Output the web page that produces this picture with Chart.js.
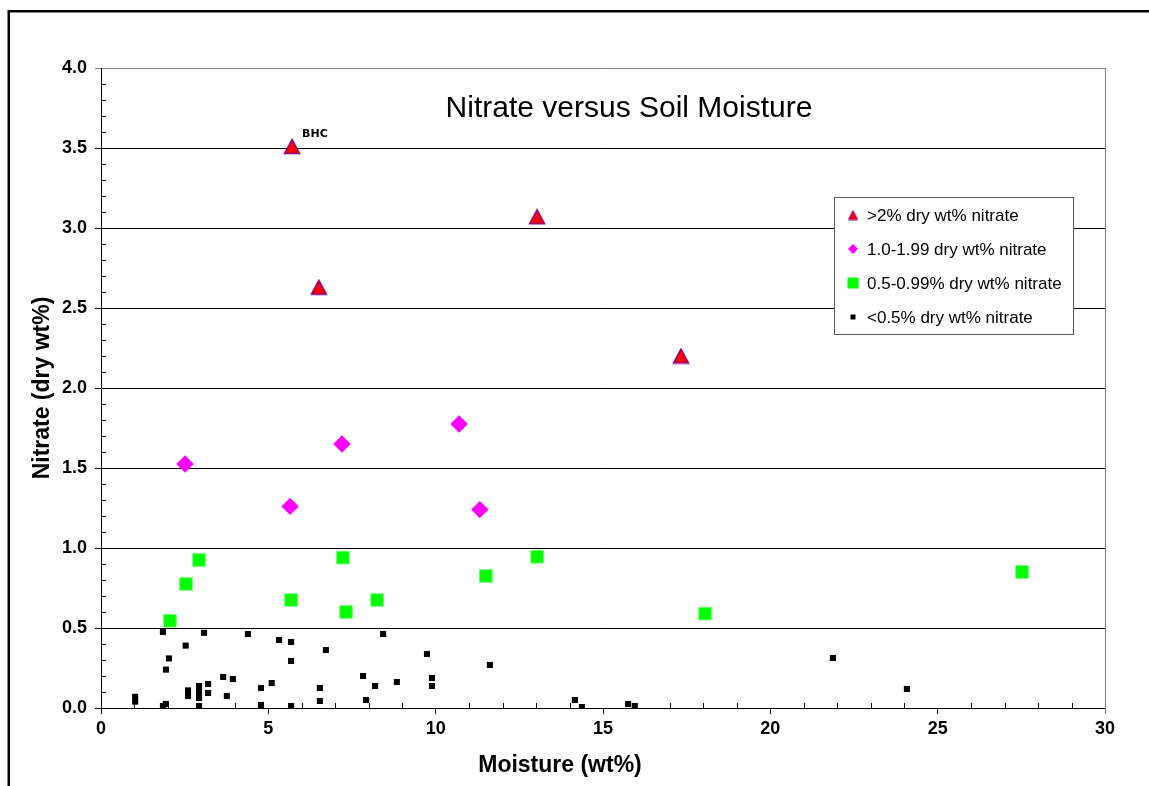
<!DOCTYPE html>
<html><head><meta charset="utf-8">
<script src="https://cdn.jsdelivr.net/npm/chart.js@4.4.0/dist/chart.umd.min.js"></script>
<style>html,body{margin:0;padding:0;background:#fff;} canvas{display:block;}</style>
</head><body>
<canvas id="c" width="1149" height="786"></canvas>
<script>
const FONT = '"Liberation Sans", Arial, Helvetica, sans-serif';
const chartTitle = 'Nitrate versus Soil Moisture';
const xAxisTitle = 'Moisture (wt%)';
const yAxisTitle = 'Nitrate (dry wt%)';
const seriesNames = ['>2% dry wt% nitrate', '1.0-1.99 dry wt% nitrate', '0.5-0.99% dry wt% nitrate', '<0.5% dry wt% nitrate'];

// >2% series
const highX = [5.71, 13.03, 6.51, 17.33];
const highY = [3.51, 3.07, 2.63, 2.20];
const highLabels = ['BHC', '', '', ''];
// 1.0-1.99 series
const midX = [2.51, 5.65, 7.20, 10.70, 11.32];
const midY = [1.525, 1.26, 1.65, 1.775, 1.24];
// 0.5-0.99 series
const lowX = [2.06, 2.54, 2.93, 5.68, 7.23, 7.32, 8.25, 11.50, 13.03, 18.05, 27.52];
const lowY = [0.545, 0.775, 0.925, 0.675, 0.94, 0.60, 0.675, 0.825, 0.945, 0.59, 0.85];
// <0.5 series
const minX = [1.02, 1.02, 1.85, 1.94, 2.03, 1.85, 1.94, 2.53, 2.60, 2.60, 2.93, 2.93, 2.93, 2.93, 3.08, 3.20, 3.20, 3.65, 3.76, 3.94, 4.39, 4.78, 4.78, 5.10, 5.32, 5.68, 5.68, 5.68, 6.72, 6.54, 6.54, 8.43, 7.83, 8.19, 7.92, 8.84, 9.74, 9.89, 9.89, 11.62, 14.16, 14.37, 15.75, 15.95, 21.87, 24.08];
const minY = [0.07, 0.04, 0.475, 0.24, 0.31, 0.0125, 0.025, 0.39, 0.11, 0.075, 0.1375, 0.10, 0.0625, 0.0125, 0.47, 0.15, 0.094, 0.194, 0.075, 0.181, 0.4625, 0.125, 0.019, 0.156, 0.425, 0.4125, 0.294, 0.0125, 0.3625, 0.125, 0.044, 0.4625, 0.20, 0.1375, 0.05, 0.1625, 0.3375, 0.1875, 0.1375, 0.269, 0.05, 0.006, 0.025, 0.0125, 0.3125, 0.119];

const xTicks = [0, 5, 10, 15, 20, 25, 30];
const yTicks = [0, 0.5, 1.0, 1.5, 2.0, 2.5, 3.0, 3.5, 4.0];

function pts(xs, ys) { return xs.map((x, i) => ({ x: x, y: ys[i] })); }

function makeTri(w, h, fill, stroke, lw) {
  const c = document.createElement('canvas');
  c.width = w; c.height = h;
  const g = c.getContext('2d');
  g.beginPath();
  g.moveTo(w / 2, lw);
  g.lineTo(w - lw, h - lw);
  g.lineTo(lw, h - lw);
  g.closePath();
  g.fillStyle = fill; g.fill();
  g.lineWidth = lw; g.strokeStyle = stroke; g.stroke();
  return c;
}
const TRI_FILL = '#FF0000', TRI_STROKE = '#800080';
const triImg = makeTri(18, 17, TRI_FILL, TRI_STROKE, 1.5);
const triLegend = makeTri(11, 11, TRI_FILL, TRI_STROKE, 1);

const datasets = [
  { label: seriesNames[0], data: pts(highX, highY), pointStyle: triImg, pointRadius: 9, backgroundColor: TRI_FILL, borderColor: TRI_STROKE, order: 1 },
  { label: seriesNames[1], data: pts(midX, midY), pointStyle: 'rectRot', pointRadius: 8.7, backgroundColor: '#FF00FF', borderColor: '#FF00FF', borderWidth: 0, order: 2 },
  { label: seriesNames[2], data: pts(lowX, lowY), pointStyle: 'rect', pointRadius: 8.9, backgroundColor: '#00FF00', borderColor: '#66FF66', borderWidth: 1, order: 3 },
  { label: seriesNames[3], data: pts(minX, minY), pointStyle: 'rect', pointRadius: 4.3, backgroundColor: '#000000', borderColor: '#000000', borderWidth: 0, order: 4 }
];

const decorPlugin = {
  id: 'decor',
  beforeDraw(chart) {
    const ctx = chart.ctx;
    ctx.save();
    ctx.fillStyle = '#fff';
    ctx.fillRect(0, 0, chart.width, chart.height);
    ctx.strokeStyle = '#000';
    ctx.lineWidth = 2.5;
    ctx.strokeRect(8.75, 11.25, chart.width + 50, chart.height + 50);
    ctx.restore();
  },
  afterDraw(chart) {
    const ctx = chart.ctx, ca = chart.chartArea;
    const xs = chart.scales.x, ys = chart.scales.y;
    ctx.save();
    // gray plot border right
    ctx.strokeStyle = '#808080';
    ctx.lineWidth = 1;
    const rx = Math.round(ca.right) + 0.5;
    ctx.beginPath(); ctx.moveTo(rx, ca.top); ctx.lineTo(rx, ca.bottom + 6); ctx.stroke();
    // minor ticks
    ctx.strokeStyle = '#000';
    ctx.beginPath();
    for (let i = 1; i < 40; i++) {
      if (i % 5 === 0) continue;
      const y = Math.round(ys.getPixelForValue(i / 10)) + 0.5;
      ctx.moveTo(ca.left, y); ctx.lineTo(ca.left + 5, y);
    }
    for (let i = 1; i < 30; i++) {
      if (i % 5 === 0) continue;
      const x = Math.round(xs.getPixelForValue(i)) + 0.5;
      ctx.moveTo(x, ca.bottom); ctx.lineTo(x, ca.bottom - 5);
    }
    ctx.stroke();
    // chart title
    ctx.fillStyle = '#000';
    ctx.font = '30px ' + FONT;
    ctx.textAlign = 'center';
    ctx.textBaseline = 'middle';
    ctx.fillText(chartTitle, ca.left + 528, ca.top + 41);
    // x axis title
    ctx.font = 'bold 23px ' + FONT;
    ctx.fillText(xAxisTitle, ca.left + 459, ca.bottom + 58);
    // point label BHC
    const meta = chart.getDatasetMeta(0);
    ctx.font = 'bold 11px "DejaVu Sans", ' + FONT;
    ctx.textAlign = 'left';
    highLabels.forEach((lab, i) => {
      if (!lab) return;
      const el = meta.data[i];
      ctx.fillText(lab, el.x + 10, el.y - 12);
    });
    // legend
    const lx = ca.left + 733, ly = ca.top + 129, lw = 239, lh = 137;
    ctx.fillStyle = '#fff';
    ctx.fillRect(lx, ly, lw, lh);
    ctx.strokeStyle = '#5a5a5a';
    ctx.lineWidth = 1;
    ctx.strokeRect(lx + 0.5, ly + 0.5, lw, lh);
    const rows = [18, 52, 86, 120];
    const mx = lx + 19;
    ctx.font = '17px ' + FONT;
    ctx.textBaseline = 'middle';
    seriesNames.forEach((name, i) => {
      const cy = ly + rows[i];
      if (i === 0) {
        ctx.drawImage(triLegend, mx - 5.5, cy - 5.5);
      } else if (i === 1) {
        ctx.fillStyle = '#FF00FF';
        ctx.beginPath(); ctx.moveTo(mx - 5, cy); ctx.lineTo(mx, cy - 5); ctx.lineTo(mx + 5, cy); ctx.lineTo(mx, cy + 5); ctx.closePath(); ctx.fill();
      } else if (i === 2) {
        ctx.fillStyle = '#00FF00';
        ctx.fillRect(mx - 5.5, cy - 5.5, 11, 11);
      } else {
        ctx.fillStyle = '#000';
        ctx.fillRect(mx - 2.5, cy - 2.5, 5, 5);
      }
      ctx.fillStyle = '#000';
      ctx.textAlign = 'left';
      ctx.fillText(name, lx + 33, cy + 1);
    });
    ctx.restore();
  }
};

new Chart(document.getElementById('c'), {
  type: 'scatter',
  data: { datasets: datasets },
  options: {
    responsive: false,
    animation: false,
    events: [],
    layout: { padding: { left: 0, top: 68, right: 44, bottom: 0 } },
    plugins: { legend: { display: false }, tooltip: { enabled: false }, title: { display: false } },
    scales: {
      x: {
        type: 'linear', min: 0, max: 30,
        afterBuildTicks: (s) => { s.ticks = xTicks.map(v => ({ value: v })); },
        afterFit: (s) => { s.height = 78; },
        ticks: { color: '#000', font: { size: 18, weight: 'bold', family: FONT }, padding: 4, maxRotation: 0, callback: (v) => String(v) },
        grid: { drawOnChartArea: false, drawTicks: true, tickLength: 6, color: '#000' },
        border: { display: true, color: '#000', width: 1 }
      },
      y: {
        type: 'linear', min: 0, max: 4,
        afterBuildTicks: (s) => { s.ticks = yTicks.map(v => ({ value: v })); },
        afterFit: (s) => { s.width = 101; },
        ticks: { color: '#000', font: { size: 18, weight: 'bold', family: FONT }, padding: 8, callback: (v) => Number(v).toFixed(1) },
        grid: { drawOnChartArea: true, drawTicks: true, tickLength: 6, color: (c) => (c.tick && c.tick.value === 4 ? '#808080' : '#000') },
        border: { display: true, color: '#000', width: 1 },
        title: { display: true, text: yAxisTitle, color: '#000', font: { size: 23, weight: 'bold', family: FONT }, padding: { top: 29, bottom: 0 } }
      }
    }
  },
  plugins: [decorPlugin]
});
</script>
</body></html>
